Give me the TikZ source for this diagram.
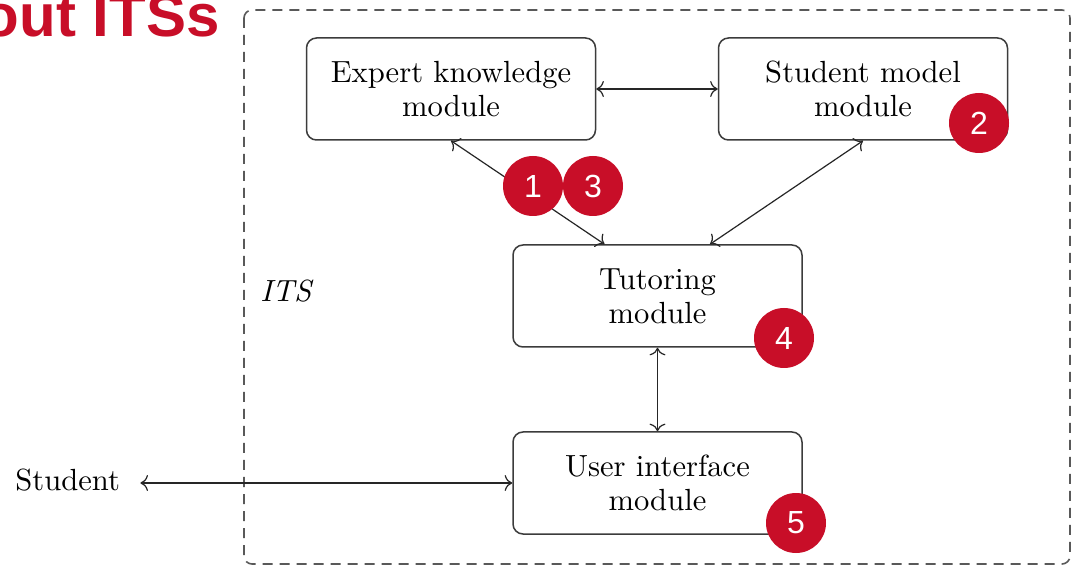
\documentclass[tikz,border=0pt]{standalone}
\usepackage{fontspec}
\setmainfont{lmroman10-regular.otf}[ItalicFont=lmroman10-italic.otf, BoldFont=lmroman10-bold.otf]
\usetikzlibrary{arrows.meta}
\newfontfamily\arialfont{Liberation Sans}
\definecolor{badgered}{RGB}{200,14,40}
\definecolor{boxline}{RGB}{60,60,60}
\begin{document}
\begin{tikzpicture}[x=0.5pt,y=-0.5pt,
  module/.style={draw=boxline, line width=0.75pt, rounded corners=5pt,
    minimum width=144.5pt, minimum height=51pt, align=center,
    font=\fontsize{15.3pt}{17pt}\selectfont, inner sep=0pt},
  link/.style={{To[scale=1.3]}-{To[scale=1.3]}, line width=0.6pt, draw=black!85},
  badge/.style={circle, fill=badgered, text=white, minimum size=30pt, inner sep=0pt,
    font=\arialfont\fontsize{16pt}{16pt}\selectfont},
  itsframe/.style={draw=black!65, line width=0.8pt, dash pattern=on 5pt off 3.5pt, rounded corners=4pt}
]
\useasboundingbox (0,0) rectangle (1076,566);
\fill[white] (0,0) rectangle (1076,566);

% title (cut off at left, as in the reference)
\node[anchor=base east, inner sep=0pt, text=badgered,
  font=\arialfont\bfseries\fontsize{30pt}{30pt}\selectfont] (title) at (220,37) {out ITSs};

% ITS frame
\draw[itsframe] (244,10) rectangle (1070,564);
\node[anchor=base west, inner sep=0pt, font=\fontsize{15.3pt}{17pt}\selectfont\itshape] (its) at (260,302) {ITS};

% modules
\node[module] (ek) at (451,89) {Expert knowledge\\module};
\node[module] (sm) at (863,89) {Student model\\module};
\node[module] (tm) at (657.5,296) {Tutoring\\module};
\node[module] (ui) at (657.5,483) {User interface\\module};

% student
\node[anchor=base west, inner sep=0pt, font=\fontsize{15.3pt}{17pt}\selectfont] (student) at (15,490) {Student};
\coordinate (sa) at ([xshift=10pt]student.east);

% connectors
\draw[link] (ek.east) -- (sm.west);
\draw[link] (ek.south) -- ([xshift=-26.5pt]tm.north);
\draw[link] (sm.south) -- ([xshift=26.25pt]tm.north);
\draw[link] (tm.south) -- (ui.north);
\draw[link] (sa |- ui.west) -- (ui.west);

% badges
\node[badge] (c1) at (533,186) {1};
\node[badge] (c3) at (593,186) {3};
\node[badge] (c2) at (979,123) {2};
\node[badge] (c4) at (784,338) {4};
\node[badge] (c5) at (796,523) {5};
\end{tikzpicture}
\end{document}
